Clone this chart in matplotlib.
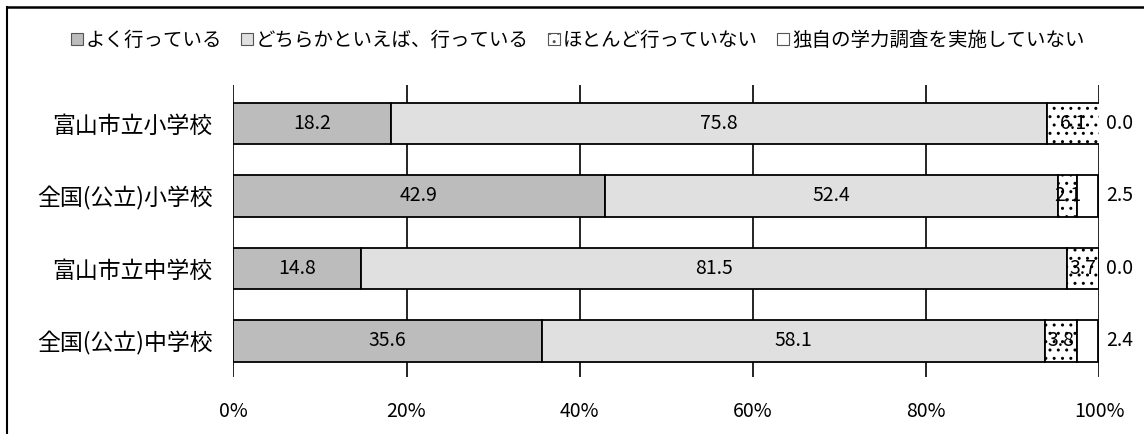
import matplotlib
matplotlib.use("Agg")
import matplotlib.pyplot as plt
import numpy as np
from matplotlib.patches import Patch
from matplotlib.lines import Line2D

plt.rcParams['font.family'] = ['Noto Sans CJK JP', 'DejaVu Sans']
plt.rcParams['hatch.linewidth'] = 1.0

categories = ['富山市立小学校', '全国(公立)小学校', '富山市立中学校', '全国(公立)中学校']
series_names = ['よく行っている', 'どちらかといえば、行っている', 'ほとんど行っていない', '独自の学力調査を実施していない']
often = [18.2, 42.9, 14.8, 35.6]
somewhat = [75.8, 52.4, 81.5, 58.1]
rarely = [6.1, 2.1, 3.7, 3.8]
none = [0.0, 2.5, 0.0, 2.4]
ticks = [0, 20, 40, 60, 80, 100]
tick_labels = ['0%', '20%', '40%', '60%', '80%', '100%']

colors = ['#bcbcbc', '#e0e0e0', 'white', 'white']
hatches = [None, None, '..', None]

fig = plt.figure(figsize=(11.44, 4.34), dpi=100)
ax = fig.add_axes([0.204, 0.131, 0.7567, 0.673])

y = np.arange(len(categories))
data = [often, somewhat, rarely, none]
left = np.zeros(len(categories))
for i, vals in enumerate(data):
    vals = np.array(vals)
    ax.barh(y, vals, left=left, height=0.57, color=colors[i], edgecolor='black',
            linewidth=1.3, hatch=hatches[i], zorder=2)
    for j, v in enumerate(vals):
        if i < 3:
            ax.text(left[j] + v / 2, y[j], f'{v:.1f}', ha='center', va='center',
                    fontsize=14, zorder=3)
        else:
            # last segment value sits outside the bar, right of 100%
            ax.annotate(f'{v:.1f}', xy=(100, y[j]), xytext=(15, 0), textcoords='offset points',
                        ha='center', va='center', fontsize=14)
    left += vals

ax.set_xlim(0, 100)
ax.set_ylim(3.5, -0.53)
ax.set_xticks(ticks)
ax.set_xticklabels(tick_labels, fontsize=14)
ax.set_yticks(y)
ax.set_yticklabels(categories, fontsize=16.5)
ax.tick_params(axis='both', length=0)
ax.tick_params(axis='x', pad=17)
ax.tick_params(axis='y', pad=15)
for s in ax.spines.values():
    s.set_visible(False)
for t in ticks:
    ax.axvline(t, color='black', linewidth=1.2, zorder=1)

handles = [Patch(facecolor=colors[i], edgecolor='#555555', hatch=hatches[i], linewidth=0.8)
           for i in range(4)]
fig.legend(handles, series_names, loc='center', bbox_to_anchor=(0.505, 0.907), ncol=4,
           frameon=False, fontsize=14, handlelength=0.6, handleheight=0.6,
           handletextpad=0.15, columnspacing=1.0)

# outer frame (top and left edges visible in the scan)
fig.add_artist(Line2D([7 / 1144, 1], [1 - 7 / 434, 1 - 7 / 434], color='black', linewidth=1.8))
fig.add_artist(Line2D([7 / 1144, 7 / 1144], [0, 1 - 7 / 434], color='black', linewidth=1.5))

fig.savefig('out.png', dpi=100)
